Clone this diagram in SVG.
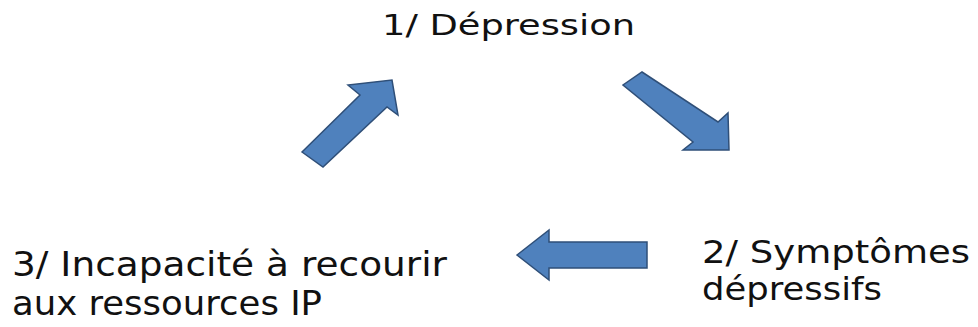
<svg xmlns="http://www.w3.org/2000/svg" width="978" height="327" viewBox="0 0 978 327">
<style>
.arrow{fill:#4F81BD;stroke:#2F4F78;stroke-width:1.5;stroke-linejoin:miter}
.lbl{font-family:"DejaVu Sans","Open Sans",sans-serif;fill:#111;}
</style>
<rect width="978" height="327" fill="#fff"/>
<g id="connectors">
<polygon class="arrow" points="302,152 360,95 348,85 392,80 398,115 387,107 323,167"/>
<polygon class="arrow" points="642,72 718,122 728,113 729,150 683,150 693,142 623,85"/>
<polygon class="arrow" points="517,255 549,230 549,242 647,242 647,268 549,268 549,280"/>
</g>
<g id="node1"><text class="lbl" x="382" y="35" font-size="28" textLength="253" lengthAdjust="spacingAndGlyphs">1/ Dépression</text></g>
<g id="node2">
<text class="lbl" x="702" y="263" font-size="31.5" textLength="268" lengthAdjust="spacingAndGlyphs">2/ Symptômes</text>
<text class="lbl" x="702" y="300" font-size="31.5" textLength="180" lengthAdjust="spacingAndGlyphs">dépressifs</text>
</g>
<g id="node3">
<text class="lbl" x="12" y="276" font-size="33" textLength="435" lengthAdjust="spacingAndGlyphs">3/ Incapacité à recourir</text>
<text class="lbl" x="12" y="315" font-size="33" textLength="310" lengthAdjust="spacingAndGlyphs">aux ressources IP</text>
</g>
</svg>
